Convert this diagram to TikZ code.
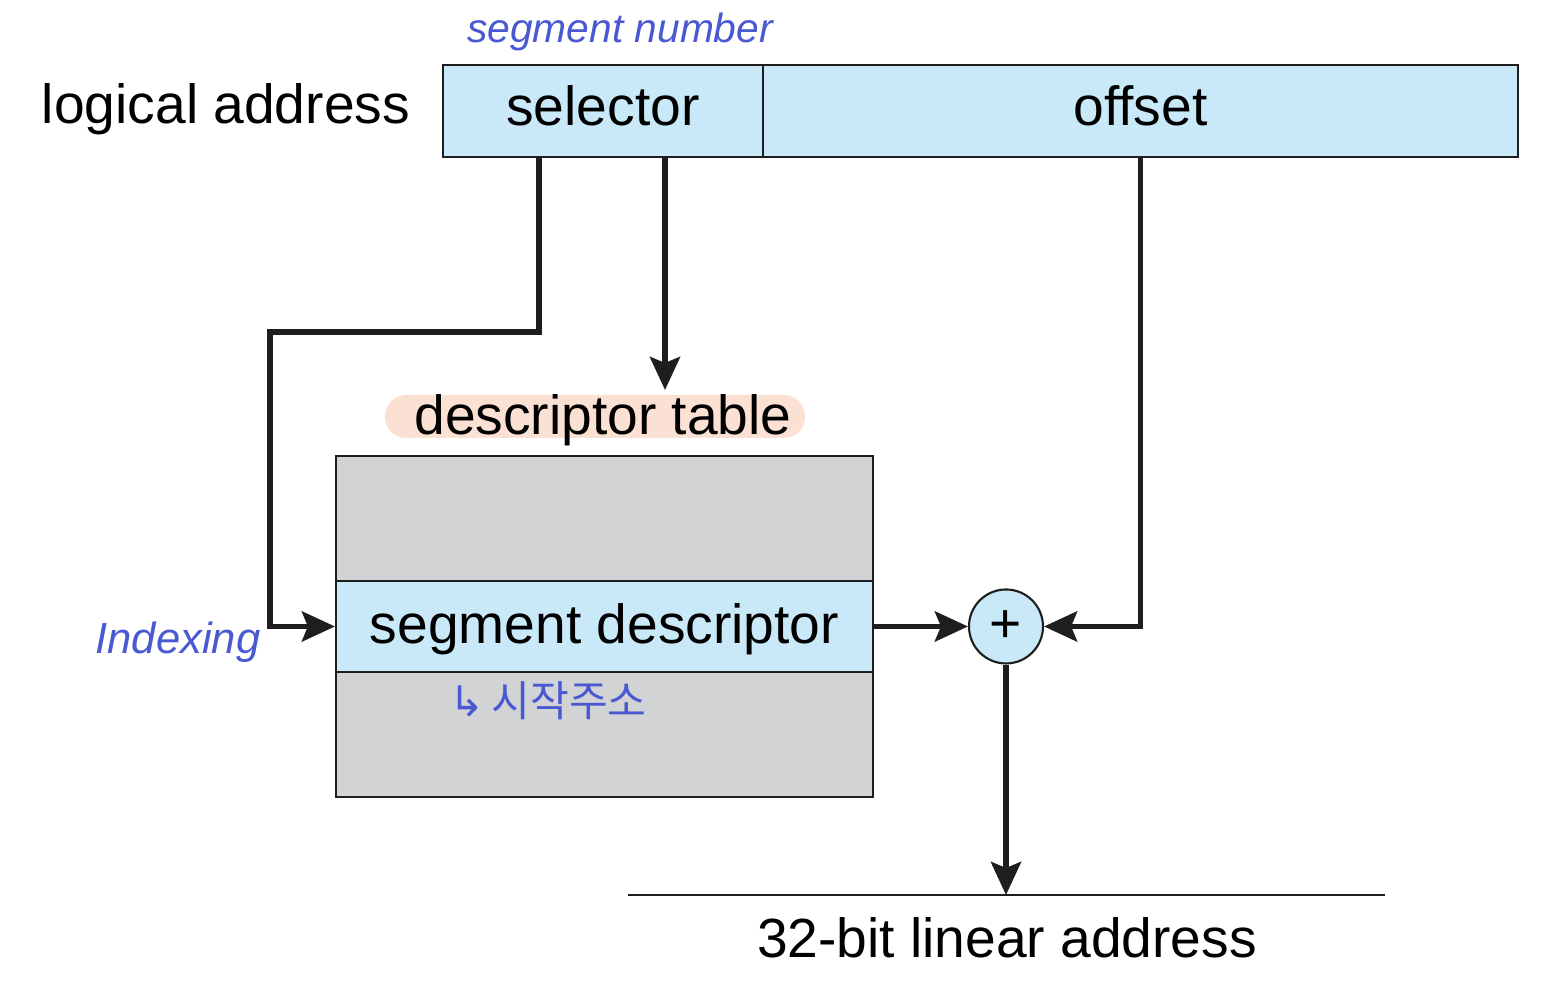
\documentclass[tikz,border=0pt]{standalone}
\usepackage{fontspec}
\setmainfont{Liberation Sans}
\newfontfamily\hangul{Noto Sans CJK KR}
\newfontfamily\symfont{DejaVu Sans}
\usepackage{tikz}
\usetikzlibrary{arrows.meta,positioning,calc}
\definecolor{CellBlue}{HTML}{C9E8F8}
\definecolor{TableGray}{HTML}{D1D3D5}
\definecolor{Peach}{HTML}{FBE1D3}
\definecolor{Pen}{HTML}{4A58D2}
\definecolor{Ink}{HTML}{1E1E1E}

\begin{document}
\begin{tikzpicture}[>={Stealth[length=3.3mm,width=3mm,inset=0.6mm]},font=\fontsize{15.7}{18}\selectfont,
  cell/.style={draw=Ink,line width=0.6pt,fill=CellBlue,minimum height=0.92cm,inner sep=0pt,text depth=0.1cm},
  flow/.style={->,draw=Ink,line width=1.6pt},
  pen/.style={text=Pen,font=\fontsize{#1}{14}\selectfont\itshape}]
  \useasboundingbox (0,0) rectangle (15.58,10);
  % logical address fields
  \node (lbl) at (2.26,8.91) {logical address};
  \node[cell,minimum width=3.2cm] (sel) at (6.03,8.89) {selector};
  \node[cell,minimum width=7.55cm] (off) at (11.405,8.89) {offset};
  \node[pen=11.6] (segnum) at (6.2,9.68) {segment number};
  % descriptor table
  \fill[Peach,rounded corners=0.21cm] (3.85,5.62) rectangle (8.05,6.05);
  \node (dtl) at (6.03,5.80) {descriptor table};
  \node[draw=Ink,line width=0.6pt,fill=TableGray,minimum width=5.37cm,minimum height=3.41cm] (tab) at (6.045,3.735) {};
  \node[cell,minimum width=5.37cm,minimum height=0.91cm,text depth=0.05cm] (seg) at (6.045,3.735) {segment descriptor};
  \node[pen=12.4] (idx) at (1.78,3.58) {Indexing};
  \node[text=Pen,font=\fontsize{12}{14}\selectfont] (start) at (5.48,2.99) {{\symfont ↳}\,{\hangul 시작주소}};
  % adder and result
  \node[circle,draw=Ink,line width=0.6pt,fill=CellBlue,minimum size=0.74cm,inner sep=0pt] (plus) at (10.06,3.735) {+};
  \coordinate (lin) at (10.06,1.05);
  \draw[Ink,line width=0.6pt] (6.28,1.05) -- (13.85,1.05);
  \node (res) at (10.07,0.62) {32-bit linear address};
  % connectors
  \coordinate (bend) at (2.70,6.68);
  \coordinate (dtop) at (6.65,6.10);
  \draw[flow] ([xshift=0.97cm]sel.south west) |- (bend) |- (seg.west);
  \draw[flow] (sel.south west -| dtop) -- (dtop);
  \draw[flow] (off.south) |- (plus.east);
  \draw[flow] (seg.east) -- (plus.west);
  \draw[flow] (plus.south) -- (lin);
\end{tikzpicture}
\end{document}
